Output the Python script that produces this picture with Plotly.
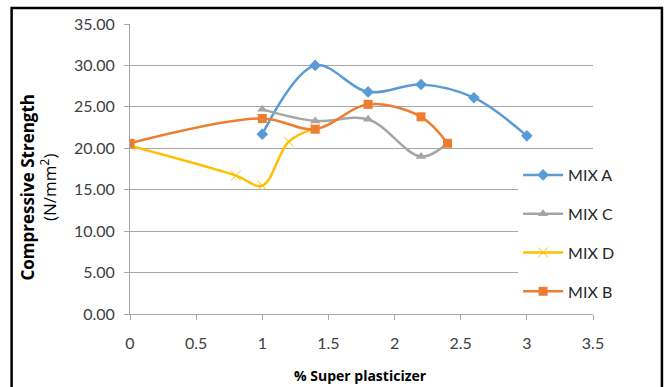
import plotly.graph_objects as go

# Data
mix_a_x = [1.0, 1.4, 1.8, 2.2, 2.6, 3.0]
mix_a_y = [21.7, 30.0, 26.8, 27.7, 26.1, 21.5]

mix_c_x = [1.0, 1.4, 1.8, 2.2, 2.4]
mix_c_y = [24.7, 23.3, 23.5, 19.0, 20.6]

mix_d_x = [0.0, 0.8, 1.0, 1.2, 1.4]
mix_d_y = [20.3, 16.7, 15.5, 20.8, 22.4]

mix_b_x = [0.0, 1.0, 1.4, 1.8, 2.2, 2.4]
mix_b_y = [20.6, 23.6, 22.3, 25.3, 23.8, 20.6]

x_ticks = [0, 0.5, 1, 1.5, 2, 2.5, 3, 3.5]
y_ticks = [0, 5, 10, 15, 20, 25, 30, 35]

W, H = 670, 387
L, R, T, B = 129.5, 77, 24, 73
pw, ph = W - L - R, H - T - B

def px_x(p):
    return (p - L) / pw

def px_y(p):
    return (H - B - p) / ph

FONT = "Lato"

fig = go.Figure()
fig.add_trace(go.Scatter(x=mix_a_x, y=mix_a_y, name="MIX A", mode="lines+markers",
                         line=dict(color="#5B9BD5", width=2.5, shape="spline"),
                         marker=dict(symbol="diamond", size=9, color="#5B9BD5"),
                         legendgroup="a"))
fig.add_trace(go.Scatter(x=mix_c_x, y=mix_c_y, name="MIX C", mode="lines+markers",
                         line=dict(color="#A5A5A5", width=2.5, shape="spline"),
                         marker=dict(symbol="triangle-up", size=9, color="#A5A5A5"),
                         legendgroup="c"))
fig.add_trace(go.Scatter(x=mix_d_x, y=mix_d_y, name="MIX D", mode="lines+markers",
                         line=dict(color="#FFC000", width=2.5, shape="spline"),
                         marker=dict(symbol="x-thin-open", size=10,
                                     line=dict(color="#FFC000", width=1), color="#FFC000"),
                         legendgroup="d"))
fig.add_trace(go.Scatter(x=mix_b_x, y=mix_b_y, name="MIX B", mode="lines+markers",
                         line=dict(color="#ED7D31", width=2.5, shape="spline"),
                         marker=dict(symbol="square", size=9, color="#ED7D31"),
                         legendgroup="b"))

fig.update_layout(
    width=W, height=H,
    margin=dict(l=L, r=R, t=T, b=B),
    paper_bgcolor="white", plot_bgcolor="white",
    font=dict(family=FONT, size=16, color="#404040"),
    showlegend=True,
    legend=dict(x=px_x(518), y=px_y(158), xanchor="left", yanchor="top",
                bgcolor="white", font=dict(size=16, color="#262626"),
                tracegroupgap=15, itemwidth=40),
    xaxis=dict(range=[0, 3.5], tickvals=x_ticks, ticktext=[f"{v:g}" for v in x_ticks],
               showgrid=False, zeroline=False, showline=True, linecolor="#A6A6A6",
               linewidth=1, ticks="outside", ticklen=5, tickcolor="#A6A6A6",
               ticklabelstandoff=10,
               tickfont=dict(size=16, color="#404040")),
    yaxis=dict(range=[0, 35], tickvals=y_ticks, tickformat=".2f",
               showgrid=True, gridcolor="#A6A6A6", gridwidth=1, zeroline=False,
               showline=True, linecolor="#A6A6A6", linewidth=1,
               ticks="outside", ticklen=5, tickcolor="#A6A6A6",
               ticklabelstandoff=6,
               tickfont=dict(size=16, color="#404040")),
    annotations=[
        dict(text="<b>Compressive Strength</b><br>(N/mm<sup>2</sup>)", textangle=-90,
             x=px_x(37), y=px_y(187), xref="paper", yref="paper", showarrow=False,
             font=dict(family="Open Sans", size=17, color="#000000"),
             xanchor="center", yanchor="middle"),
        dict(text="<b>% Super plasticizer</b>",
             x=px_x(360), y=px_y(375), xref="paper", yref="paper", showarrow=False,
             font=dict(family="Open Sans", size=14, color="#000000"),
             xanchor="center", yanchor="middle"),
    ],
    shapes=[
        dict(type="rect", xref="paper", yref="paper",
             x0=px_x(11), x1=px_x(662), y0=px_y(390), y1=px_y(8),
             line=dict(color="black", width=2.5), fillcolor="rgba(0,0,0,0)", layer="above"),
    ],
)

fig.write_html("out.html")
